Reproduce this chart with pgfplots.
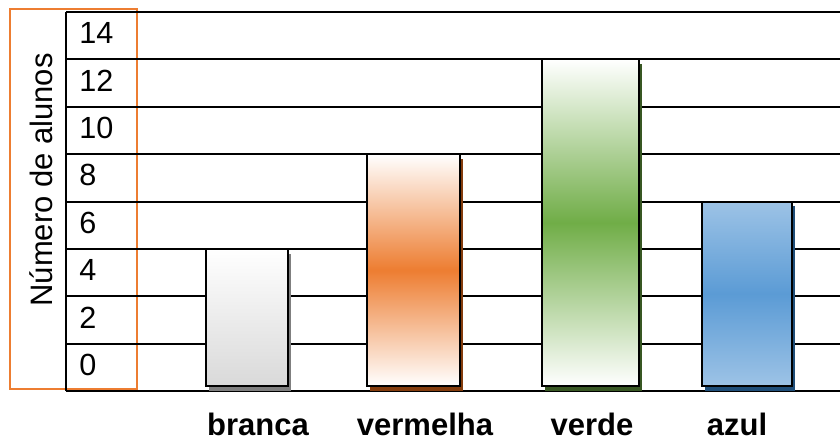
\documentclass[border=0pt]{standalone}
\usepackage{fontspec}
\setmainfont{Liberation Sans}
\usepackage{pgfplots}
\pgfplotsset{compat=1.18}
\definecolor{orA}{HTML}{ED7D31}
\definecolor{orS}{HTML}{843C0C}
\definecolor{grA}{HTML}{70AD47}
\definecolor{grS}{HTML}{385723}
\definecolor{blA}{HTML}{5B9BD5}
\definecolor{blL}{HTML}{9DC3E6}
\definecolor{blS}{HTML}{1F4E79}
\definecolor{gyA}{HTML}{D9D9D9}
\definecolor{gyS}{HTML}{7F7F7F}
\begin{document}
\fontsize{15}{18}\selectfont
\begin{tikzpicture}
\useasboundingbox (0,0) rectangle (420pt,220.5pt);
\draw[orA, line width=0.85pt] (5pt,26pt) rectangle (68.5pt,216pt);
\begin{axis}[
  at={(33pt,25pt)}, anchor=south west,
  scale only axis, width=387pt, height=189.5pt,
  xmin=66, xmax=840, ymin=-2, ymax=14,
  axis lines*=left,
  axis line style={-, line width=1pt, black},
  /pgf/number format/assume math mode=true,
  ytick={-0.9,1.1,3.1,5.1,7.1,9.1,11.1,13.1},
  yticklabels={0,2,4,6,8,10,12,14},
  yticklabel style={anchor=west, inner sep=0pt, xshift=6.5pt, font=\fontsize{15.3}{18}\selectfont},
  xtick={258,425,592,737},
  xticklabels={branca,vermelha,verde,azul},
  xticklabel style={anchor=base, inner sep=0pt, yshift=-22.3pt, font=\fontsize{15.5}{18}\selectfont\bfseries},
  major tick length=0pt,
  extra y ticks={-2,0,2,4,6,8,10,12,14},
  extra y tick labels={},
  extra y tick style={grid=major},
  major grid style={black, line width=1pt},
  ylabel={Número de alunos},
  ylabel style={at={(axis description cs:-0.0168,0.557)}, anchor=base, font=\fontsize{15.5}{18}\selectfont},
  line join=miter,
]
% branca = 4
\addplot[fill=gyS, draw=none] coordinates {(209,-2.0) (209,3.79) (291,3.79) (291,-2.0)} -- cycle;
\addplot[draw=black, line width=1pt, top color=white, bottom color=gyA] coordinates {(206,-1.79) (206,4) (288,4) (288,-1.79)} -- cycle;
% vermelha = 8
\addplot[fill=orS, draw=none] coordinates {(370,-2.0) (370,7.79) (463,7.79) (463,-2.0)} -- cycle;
\addplot[draw=black, line width=1pt, top color=white, bottom color=white, middle color=orA] coordinates {(367,-1.79) (367,8) (460,8) (460,-1.79)} -- cycle;
% verde = 12
\addplot[fill=grS, draw=none] coordinates {(545,-2.0) (545,11.79) (642,11.79) (642,-2.0)} -- cycle;
\addplot[draw=black, line width=1pt, top color=white, bottom color=white, middle color=grA] coordinates {(542,-1.79) (542,12) (639,12) (639,-1.79)} -- cycle;
% azul = 6
\addplot[fill=blS, draw=none] coordinates {(705,-2.0) (705,5.79) (795,5.79) (795,-2.0)} -- cycle;
\addplot[draw=black, line width=1pt, top color=blL, bottom color=blL, middle color=blA] coordinates {(702,-1.79) (702,6) (792,6) (792,-1.79)} -- cycle;
\end{axis}
\end{tikzpicture}
\end{document}
